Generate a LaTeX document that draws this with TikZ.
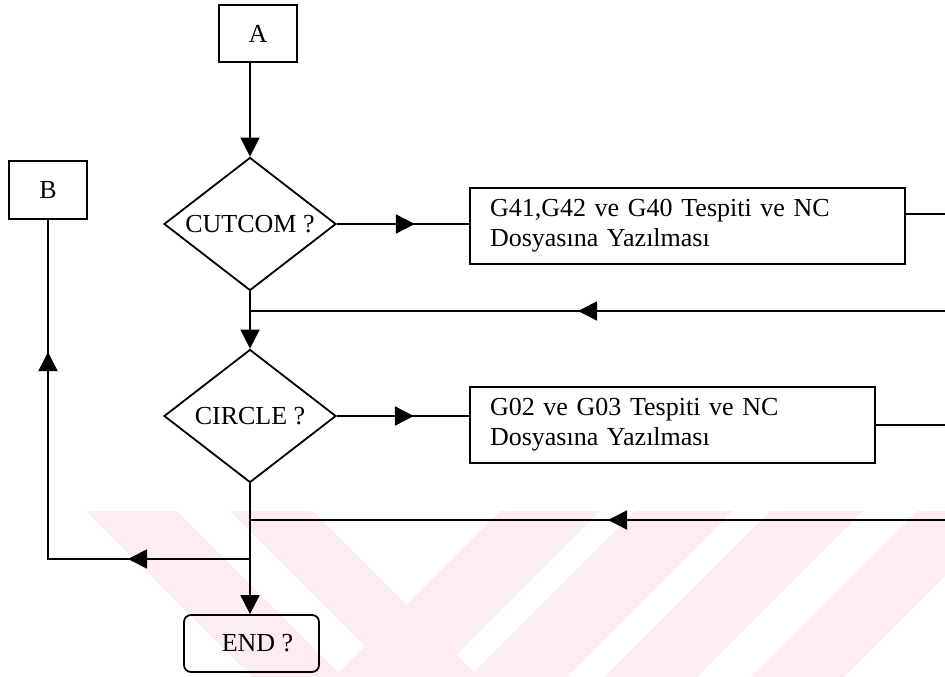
\documentclass[tikz,border=0pt]{standalone}
\usepackage{fontspec}
\setmainfont{Liberation Serif}
\usetikzlibrary{shapes.geometric,arrows.meta}
\definecolor{wmpink}{RGB}{253,237,241}
\begin{document}
\begin{tikzpicture}[x=1pt,y=-1pt,
  every node/.style={font=\fontsize{26}{30}\selectfont},
  line/.style={line width=1.8pt},
  tip/.style={line width=1.8pt,-{Triangle[length=19pt,width=19pt]}},
  box/.style={draw,line width=1.8pt,rectangle,inner sep=0pt},
  procbox/.style={draw,line width=1.8pt,rectangle,inner xsep=20pt,inner ysep=0pt,
    minimum height=76pt,align=left},
  decision/.style={draw,line width=1.8pt,diamond,inner sep=0pt,shape aspect=1.3,
    minimum width=172pt,minimum height=133pt},
  endbox/.style={draw,line width=1.8pt,rectangle,rounded corners=7pt,inner sep=0pt,
    minimum width=135pt,minimum height=57pt}]
\useasboundingbox (0,0) rectangle (945,677);

% faint striped emblem in the lower part of the page
\begin{scope}
  \clip (0,0) rectangle (945,677);
  \fill[wmpink] (86,511) -- (177,511) -- (343,677) -- (252,677) -- cycle;
  \fill[wmpink] (230,511) -- (313,511) -- (479,677) -- (396,677) -- cycle;
  \fill[wmpink] (500,511) -- (600,511) -- (434,677) -- (334,677) -- cycle;
  \fill[wmpink] (635,511) -- (733,511) -- (567,677) -- (469,677) -- cycle;
  \fill[wmpink] (770,511) -- (863,511) -- (697,677) -- (604,677) -- cycle;
  \fill[wmpink] (917,511) -- (1010,511) -- (844,677) -- (751,677) -- cycle;
\end{scope}

% nodes
\node[box,minimum width=78pt,minimum height=57pt] (A) at (258,33.5) {A};
\node[box,minimum width=78pt,minimum height=58pt] (B) at (48,190) {B};
\node[decision] (c1) at (250,224) {CUTCOM ?};
\node[decision] (c2) at (250,416) {CIRCLE ?};
\node[procbox,text width=395pt] (g1) at (687.5,226)
  {G41,G42 ve G40 Tespiti ve NC\\Dosyasına Yazılması};
\node[procbox,text width=365pt] (g2) at (672.5,425)
  {G02 ve G03 Tespiti ve NC\\Dosyasına Yazılması};
\node[endbox] (E) at (251.5,643.5) {\hspace{12pt}END ?};

% free ends at the right border and junctions
\coordinate (r1) at (945,214);
\coordinate (ret1) at (945,311);
\coordinate (r2) at (945,425);
\coordinate (ret2) at (945,520);
\coordinate (br) at (250,559);
\coordinate (bl) at (48,559);

% A -> CUTCOM
\draw[tip] (A.south -| c1.north) -- (c1.north);
% CUTCOM -> G41 box
\draw[line] (c1.east) -- (c1.east -| g1.west);
\draw[tip] (c1.east) -- ++(78,0);
\draw[line] (g1.east |- r1) -- (r1);
% return into the main line
\draw[line] (ret1) -- (ret1 -| c1.south);
\draw[tip] (ret1) -- (578,311);
% CUTCOM -> CIRCLE
\draw[tip] (c1.south) -- (c2.north);
% CIRCLE -> G02 box
\draw[line] (c2.east) -- (c2.east -| g2.west);
\draw[tip] (c2.east) -- ++(77,0);
\draw[line] (g2.east) -- (r2);
% second return
\draw[line] (ret2) -- (ret2 -| c2.south);
\draw[tip] (ret2) -- (608,520);
% CIRCLE -> END
\draw[tip] (c2.south) -- (E.north -| c2.south);
% branch to B
\draw[line] (br) -- (bl) -- (B.south);
\draw[tip] (br) -- (128,559);
\draw[tip] (bl) -- (48,352);
\end{tikzpicture}
\end{document}
